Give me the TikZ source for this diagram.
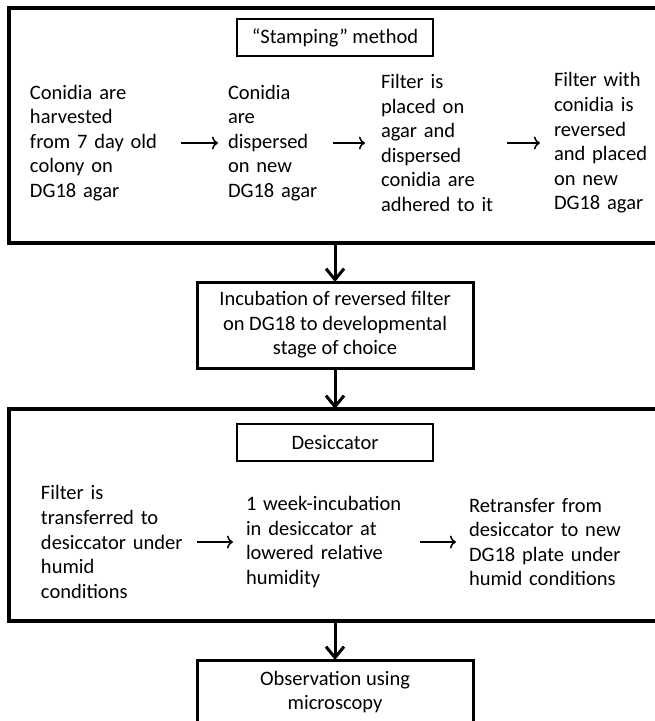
\documentclass[tikz,border=0pt]{standalone}
\usepackage{fontspec}
\setmainfont{Carlito}
\usetikzlibrary{positioning,arrows.meta}

\begin{document}
\begin{tikzpicture}[x=1pt, y=-1pt,
  nodes = {inner sep=0pt, outer sep=0pt,
    font=\fontsize{20.5}{24.6}\selectfont},
  frame/.style = {draw, line width=3.5pt, minimum width=652pt},
  stage/.style = {draw, line width=3pt, minimum width=276pt, align=center},
  title/.style = {draw, line width=1.2pt, minimum width=196pt,
    minimum height=37pt},
  substep/.style = {anchor=west, align=left},
  down/.style = {line width=3pt, -{Straight Barb[length=11pt,width=18pt]}},
  arr/.style = {line width=1.5pt, -{To[length=6pt,width=13pt]}}
  ]
  \useasboundingbox (0,0) rectangle (655,721);
  \clip (0,0) rectangle (655,721);

  % stamping method
  \node (stamping) [frame, minimum height=235pt] at (335,125.5) {};
  \node (stamptitle) [title, below=11pt of stamping.north] {``Stamping'' method};
  \node (harvest) [substep, text width=151pt] at (30,143)
    {Conidia are\\harvested\\from 7 day old\\colony on\\DG18 agar};
  \node (disperse) [substep, text width=105pt] at (228,143)
    {Conidia\\are\\dispersed\\on new\\DG18 agar};
  \node (place) [substep, text width=126pt] at (381,143)
    {Filter is\\placed on\\agar and\\dispersed\\conidia are\\adhered to it};
  \node (reverse) [substep, text width=100pt] at (554,143)
    {Filter with\\conidia is\\reversed\\and placed\\on new\\DG18 agar};

  \node (incubation) [stage, minimum height=86pt, below=39pt of stamping]
    {Incubation of reversed filter\\on DG18 to developmental\\stage of choice};

  % desiccator
  \node (desiccator) [frame, minimum height=212pt, below=41pt of incubation] {};
  \node (desictitle) [title, below=15pt of desiccator.north] {Desiccator};
  \node (transfer) [substep, text width=156pt] at (41,542)
    {Filter is\\transferred to\\desiccator under\\humid\\conditions};
  \node (lowered) [substep, text width=174pt] at (246,542)
    {1 week-incubation\\in desiccator at\\lowered relative\\humidity};
  \node (retransfer) [substep, text width=186pt] at (469,542)
    {Retransfer from\\desiccator to new\\DG18 plate under\\humid conditions};

  \node (observation) [stage, minimum height=64pt, below=39pt of desiccator]
    {Observation using\\microscopy};

  \draw[arr, shorten >=10pt] (harvest) -- (disperse);
  \draw[arr, shorten >=16pt] (disperse) -- (place);
  \draw[arr, shorten >=14pt] (place) -- (reverse);
  \draw[arr, shorten >=13pt] (transfer) -- (lowered);
  \draw[arr, shorten >=13pt] (lowered) -- (retransfer);

  \draw[down] (stamping) -- (incubation);
  \draw[down] (incubation) -- (desiccator);
  \draw[down] (desiccator) -- (observation);
\end{tikzpicture}
\end{document}
